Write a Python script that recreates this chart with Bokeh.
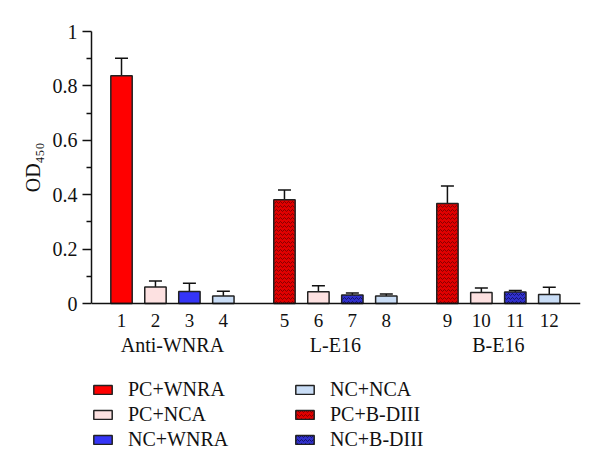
from bokeh.plotting import figure
from bokeh.models import (FixedTicker, LinearAxis, Legend, LegendItem, Title,
                          Range1d, Whisker, TeeHead, ColumnDataSource)
from bokeh.embed import file_html
from bokeh.resources import INLINE

# ---------------- data ----------------
bar_labels = ["1", "2", "3", "4", "5", "6", "7", "8", "9", "10", "11", "12"]
group_labels = ["Anti-WNRA", "L-E16", "B-E16"]
bar_groups = [0, 0, 0, 0, 1, 1, 1, 1, 2, 2, 2, 2]
bar_treatments = ["PC+WNRA", "PC+NCA", "NC+WNRA", "NC+NCA",
                  "PC+B-DIII", "PC+NCA", "NC+B-DIII", "NC+NCA",
                  "PC+B-DIII", "PC+NCA", "NC+B-DIII", "NC+NCA"]
od_values = [0.837, 0.061, 0.044, 0.028, 0.381, 0.043, 0.031, 0.028,
             0.368, 0.040, 0.042, 0.033]
od_upper = [0.902, 0.083, 0.074, 0.045, 0.417, 0.065, 0.039, 0.035,
            0.432, 0.057, 0.048, 0.060]
y_ticks = [0, 0.2, 0.4, 0.6, 0.8, 1.0]
y_tick_labels = ["0", "0.2", "0.4", "0.6", "0.8", "1"]
y_minor_ticks = [0.1, 0.3, 0.5, 0.7, 0.9]
y_title = "OD\u2084\u2085\u2080"

series_names = ["PC+WNRA", "PC+NCA", "NC+WNRA", "NC+NCA", "PC+B-DIII", "NC+B-DIII"]
series_fill = ["#FF0000", "#FDE1E1", "#3535F7", "#C9DDF6", "#E00000", "#3030CC"]
series_hatch = [None, None, None, None, "horizontal_wave", "horizontal_wave"]
series_hatch_color = [None, None, None, None, "#7A0000", "#101060"]

FONT = "Liberation Serif"
TXT = "#111111"

# ---------------- layout helpers ----------------
group_step = 4.8
bar_pos = [bar_groups[i] * group_step + (i - 4 * bar_groups[i]) for i in range(len(bar_labels))]
group_pos = [g * group_step + 1.5 for g in range(len(group_labels))]

p = figure(width=600, height=470, output_backend="svg", toolbar_location=None,
           x_range=Range1d(-0.884, 13.52), y_range=Range1d(-0.5772, 1.0),
           min_border_left=91, min_border_right=20, min_border_top=31,
           min_border_bottom=10, x_axis_location=None, y_axis_location=None)
p.outline_line_color = None
p.xgrid.visible = False
p.ygrid.visible = False
p.background_fill_color = "white"
p.border_fill_color = "white"

# y axis
yax = LinearAxis(ticker=FixedTicker(ticks=y_ticks, minor_ticks=y_minor_ticks),
                 major_label_overrides={y_ticks[i]: y_tick_labels[i] for i in range(len(y_ticks))},
                 bounds=(0, 1))
yax.axis_line_width = 1.5
yax.axis_line_color = "#111111"
yax.major_tick_line_width = 1.5
yax.major_tick_line_color = "#111111"
yax.minor_tick_line_width = 1.5
yax.minor_tick_line_color = "#111111"
yax.major_tick_in = 0
yax.major_tick_out = 9
yax.minor_tick_in = 0
yax.minor_tick_out = 5
yax.major_label_standoff = 5
yax.major_label_text_font = FONT
yax.major_label_text_font_size = "20px"
yax.major_label_text_color = TXT
p.add_layout(yax, "left")

# y axis title, placed beside the 0..1 axis
p.add_layout(Title(text=y_title, align="right", offset=111, standoff=12,
                   text_font=FONT, text_font_size="20px", text_font_style="normal",
                   text_color=TXT), "left")

# x axis with bar numbers (fixed at y = 0)
xax = LinearAxis(ticker=FixedTicker(ticks=bar_pos, minor_ticks=[]),
                 major_label_overrides={bar_pos[i]: bar_labels[i] for i in range(len(bar_pos))},
                 fixed_location=0)
xax.axis_line_width = 1.5
xax.axis_line_color = "#111111"
xax.major_tick_line_color = None
xax.minor_tick_line_color = None
xax.major_tick_out = 0
xax.major_tick_in = 0
xax.major_label_standoff = 10
xax.major_label_text_font = FONT
xax.major_label_text_font_size = "19px"
xax.major_label_text_color = TXT
p.add_layout(xax, "below")

# group axis (fixed at y = 0, labels further down)
gax = LinearAxis(ticker=FixedTicker(ticks=group_pos, minor_ticks=[]),
                 major_label_overrides={group_pos[i]: group_labels[i] for i in range(len(group_pos))},
                 fixed_location=0)
gax.axis_line_color = None
gax.major_tick_line_color = None
gax.minor_tick_line_color = None
gax.major_tick_out = 0
gax.major_tick_in = 0
gax.major_label_standoff = 30
gax.major_label_text_font = FONT
gax.major_label_text_font_size = "20px"
gax.major_label_text_color = TXT
p.add_layout(gax, "below")

# bars
renderers = {}
for k, name in enumerate(series_names):
    idx = [i for i, t in enumerate(bar_treatments) if t == name]
    src = ColumnDataSource(dict(x=[bar_pos[i] for i in idx], top=[od_values[i] for i in idx]))
    kw = dict(x="x", top="top", bottom=0, width=0.63, source=src,
              fill_color=series_fill[k], line_color="#222222", line_width=1.5)
    if series_hatch[k]:
        kw.update(hatch_pattern=series_hatch[k], hatch_color=series_hatch_color[k],
                  hatch_scale=4, hatch_weight=1, hatch_alpha=0.9)
    renderers[name] = p.vbar(**kw)

# error bars (upper only)
err_src = ColumnDataSource(dict(x=bar_pos, lower=od_values, upper=od_upper))
wh = Whisker(base="x", lower="lower", upper="upper", source=err_src,
             line_color="#111111", line_width=1.5, lower_head=None,
             upper_head=TeeHead(size=13, line_color="#111111", line_width=1.5))
p.add_layout(wh)

# legends (two columns) inside the frame area below the axis
def make_legend(names, vx):
    leg = Legend(items=[LegendItem(label=n, renderers=[renderers[n]]) for n in names],
                 location=(vx, 8), orientation="vertical")
    leg.border_line_color = None
    leg.background_fill_alpha = 0
    leg.padding = 0
    leg.margin = 0
    leg.spacing = 0
    leg.glyph_width = 23
    leg.glyph_height = 11
    leg.label_height = 25
    leg.label_standoff = 14
    leg.label_text_font = FONT
    leg.label_text_font_size = "20px"
    leg.label_text_color = TXT
    return leg

p.add_layout(make_legend(series_names[:3], 0))
p.add_layout(make_legend(series_names[3:], 202))

open("out.html", "w").write(file_html(p, INLINE))
